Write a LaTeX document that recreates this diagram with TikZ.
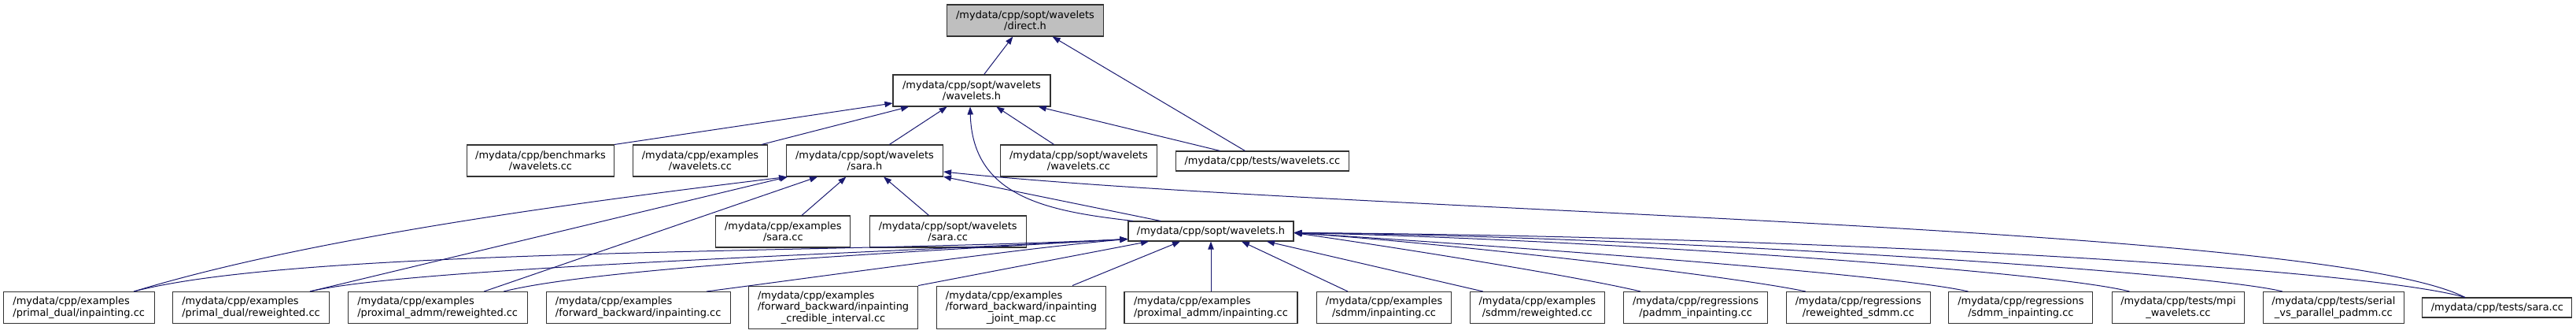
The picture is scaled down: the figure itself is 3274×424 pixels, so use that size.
\documentclass[tikz,border=0pt]{standalone}
\usepackage{fontspec}
\setmainfont{DejaVu Sans}
\usepackage{calc}
\usetikzlibrary{arrows.meta}
\definecolor{mblue}{RGB}{25,25,112}
\definecolor{nodegray}{RGB}{191,191,191}
\definecolor{bordercol}{RGB}{50,50,50}
\begin{document}
\begin{tikzpicture}[x=0.75pt,y=-0.75pt,
  dbox/.style n args={2}{draw=bordercol, line width=0.8pt, fill=white, inner sep=0pt,
     minimum width=#1*0.75pt, minimum height=#2*0.75pt, align=center,
     font=\fontsize{9.7}{10.8}\selectfont},
  lbox/.style n args={2}{dbox={#1}{#2}, align=left},
  dep/.style={draw=mblue, line width=0.75pt, -{Triangle[length=7.5pt,width=5.5pt]}}]
\useasboundingbox (0,0) rectangle (3274,424);
% row 1-2
\node[dbox={199}{40}, fill=nodegray] (direct) at (1303,26) {/mydata/cpp/sopt/wavelets\\/direct.h};
\node[dbox={200}{40}] (wavh) at (1235,115) {/mydata/cpp/sopt/wavelets\\/wavelets.h};
% row 3
\node[dbox={187}{40}] (bench) at (687,204) {/mydata/cpp/benchmarks\\/wavelets.cc};
\node[dbox={171}{40}] (exwav) at (890,204) {/mydata/cpp/examples\\/wavelets.cc};
\node[dbox={199}{40}] (sarah) at (1099,204) {/mydata/cpp/sopt/wavelets\\/sara.h};
\node[dbox={199}{40}] (swwavcc) at (1371,204) {/mydata/cpp/sopt/wavelets\\/wavelets.cc};
\node[dbox={220}{25}] (testwav) at (1604.4,204.5) {/mydata/cpp/tests/wavelets.cc};
% row 4
\node[dbox={171}{40}] (exsara) at (995.3,294) {/mydata/cpp/examples\\/sara.cc};
\node[dbox={199}{40}] (swsaracc) at (1204.7,294) {/mydata/cpp/sopt/wavelets\\/sara.cc};
\node[dbox={210}{25}] (swh) at (1539,293.5) {/mydata/cpp/sopt/wavelets.h};
% row 5
\node[lbox={192}{40}] (pdinp) at (100.2,390.5) {/mydata/cpp/examples\\/primal\_dual/inpainting.cc};
\node[lbox={199}{40}] (pdrew) at (319,390.5) {/mydata/cpp/examples\\/primal\_dual/reweighted.cc};
\node[lbox={228}{40}] (parew) at (556.2,390.5) {/mydata/cpp/examples\\/proximal\_admm/reweighted.cc};
\node[lbox={234}{40}] (fbinp) at (811.2,390.5) {/mydata/cpp/examples\\/forward\_backward/inpainting.cc};
\node[lbox={215}{54.5}] (fbcred) at (1059.1,390.3) {/mydata/cpp/examples\\/forward\_backward/inpainting\\\makebox[\widthof{/forward\_backward/inpainting}][c]{\_credible\_interval.cc}};
\node[lbox={215}{54.5}] (fbjoint) at (1298,390.3) {/mydata/cpp/examples\\/forward\_backward/inpainting\\\makebox[\widthof{/forward\_backward/inpainting}][c]{\_joint\_map.cc}};
\node[lbox={220}{40}] (painp) at (1539,390.5) {/mydata/cpp/examples\\/proximal\_admm/inpainting.cc};
\node[dbox={171}{40}] (sdmminp) at (1759,390.5) {/mydata/cpp/examples\\/sdmm/inpainting.cc};
\node[dbox={171}{40}] (sdmmrew) at (1953.8,390.5) {/mydata/cpp/examples\\/sdmm/reweighted.cc};
\node[dbox={183}{40}] (regpadmm) at (2155.1,390.5) {/mydata/cpp/regressions\\/padmm\_inpainting.cc};
\node[dbox={183}{40}] (regrew) at (2361.8,390.5) {/mydata/cpp/regressions\\/reweighted\_sdmm.cc};
\node[dbox={183}{40}] (regsdmm) at (2568.4,390.5) {/mydata/cpp/regressions\\/sdmm\_inpainting.cc};
\node[dbox={168}{40}] (mpi) at (2768.4,390.5) {/mydata/cpp/tests/mpi\\\_wavelets.cc};
\node[dbox={179}{40}] (serial) at (2965.8,390.5) {/mydata/cpp/tests/serial\\\_vs\_parallel\_padmm.cc};
\node[dbox={190}{25}] (testsara) at (3173.9,390.5) {/mydata/cpp/tests/sara.cc};
% edges to direct.h
\draw[dep] (wavh) -- (direct);
\draw[dep] (testwav) -- (direct);
% edges to wavelets.h
\draw[dep] (bench.north east) -- ([shift={(0,16)}]wavh.west);
\draw[dep] ([shift={(78,0)}]exwav.north) -- ([shift={(-80,0)}]wavh.south);
\draw[dep] (sarah) -- (wavh);
\draw[dep] ([shift={(-99,0)}]swh.north) .. controls (1330,268) and (1236,250) .. ([shift={(-2,0)}]wavh.south);
\draw[dep] (swwavcc) -- (wavh);
\draw[dep] (testwav) -- (wavh);
% edges to sara.h
\draw[dep] (exsara) -- (sarah);
\draw[dep] (swsaracc) -- (sarah);
\draw[dep] (swh) -- (sarah);
\draw[dep] ([shift={(-41,0)}]testsara.north) .. controls (2950,285) and (1700,270) .. ([shift={(0,14)}]sarah.east);
\draw[dep] ([shift={(70,0)}]pdinp.north) .. controls (400,300) and (750,255) .. ([shift={(1,0)}]sarah.south west);
\draw[dep] ([shift={(75,0)}]pdrew.north) -- ([shift={(2,0)}]sarah.south west);
\draw[dep] ([shift={(59,0)}]parew.north) -- ([shift={(-60,0)}]sarah.south);
% edges to sopt/wavelets.h from the left
\draw[dep] ([shift={(70,0)}]pdinp.north) .. controls (380,315) and (1050,322) .. ([shift={(0,10)}]swh.west);
\draw[dep] ([shift={(75,0)}]pdrew.north) .. controls (520,340) and (1100,322) .. ([shift={(0,10)}]swh.west);
\draw[dep] ([shift={(84,0)}]parew.north) .. controls (760,340) and (1150,320) .. ([shift={(0,10)}]swh.west);
\draw[dep] ([shift={(87,0)}]fbinp.north) .. controls (1050,350) and (1300,315) .. ([shift={(0,10)}]swh.west);
\draw[dep] (fbcred.north east) -- ([shift={(-79,0)}]swh.south);
\draw[dep] ([shift={(65,0)}]fbjoint.north) -- ([shift={(-39,0)}]swh.south);
\draw[dep] (painp) -- (swh);
\draw[dep] ([shift={(-46,0)}]sdmminp.north) -- ([shift={(39,0)}]swh.south);
\draw[dep] ([shift={(-69,0)}]sdmmrew.north) -- ([shift={(71,0)}]swh.south);
% edges to sopt/wavelets.h from the right
\draw[dep] ([shift={(-70,0)}]regpadmm.north) .. controls (2000,350) and (1780,315) .. ([shift={(0,2)}]swh.east);
\draw[dep] ([shift={(-67,0)}]regrew.north) .. controls (2200,350) and (1850,310) .. ([shift={(0,2)}]swh.east);
\draw[dep] ([shift={(-67,0)}]regsdmm.north) .. controls (2400,347) and (1900,312) .. ([shift={(0,2)}]swh.east);
\draw[dep] ([shift={(-62,0)}]mpi.north) .. controls (2600,343) and (2000,303) .. ([shift={(0,2)}]swh.east);
\draw[dep] ([shift={(-65,0)}]serial.north) .. controls (2800,345) and (2100,300) .. ([shift={(0,2)}]swh.east);
\draw[dep] ([shift={(-41,0)}]testsara.north) .. controls (3000,340) and (2300,300) .. ([shift={(0,2)}]swh.east);
\end{tikzpicture}
\end{document}
